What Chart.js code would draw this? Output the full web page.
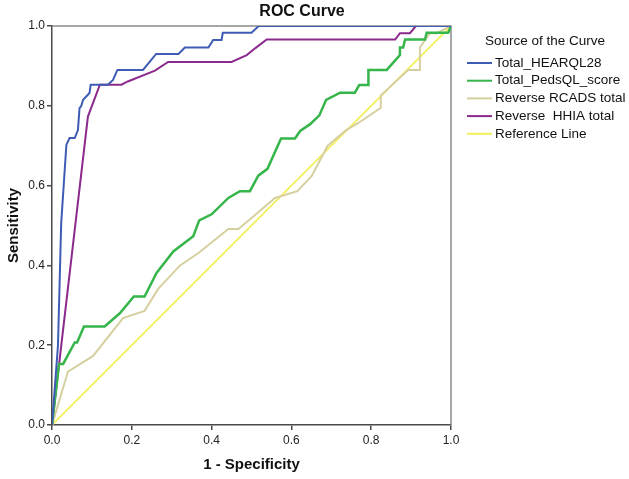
<!DOCTYPE html>
<html>
<head>
<meta charset="utf-8">
<title>ROC Curve</title>
<script src="https://cdn.jsdelivr.net/npm/chart.js@4/dist/chart.umd.min.js"></script>
<style>
  html, body { margin: 0; padding: 0; background: #fff; }
  #wrap { width: 629px; height: 479px; }
</style>
</head>
<body>
<div id="wrap"><canvas id="rocChart" width="629" height="479"></canvas></div>
<script>
// ROC curve points (1 - specificity, sensitivity)
const hearFpr = [0, 0.015, 0.023, 0.036, 0.044, 0.057, 0.065, 0.069, 0.073, 0.078, 0.094, 0.097, 0.14, 0.153, 0.164, 0.196, 0.228, 0.261, 0.317, 0.333, 0.392, 0.404, 0.425, 0.428, 0.5, 0.518, 1.0];
const hearTpr = [0, 0.2, 0.505, 0.702, 0.719, 0.719, 0.739, 0.794, 0.799, 0.815, 0.832, 0.853, 0.853, 0.865, 0.89, 0.89, 0.89, 0.93, 0.93, 0.946, 0.946, 0.965, 0.965, 0.983, 0.983, 1.0, 1.0];

const pedsFpr = [0, 0.0175, 0.028, 0.057, 0.063, 0.08, 0.132, 0.17, 0.205, 0.232, 0.262, 0.304, 0.354, 0.369, 0.4, 0.442, 0.471, 0.496, 0.517, 0.54, 0.574, 0.609, 0.622, 0.647, 0.67, 0.687, 0.722, 0.759, 0.77, 0.793, 0.793, 0.839, 0.872, 0.872, 0.88, 0.885, 0.935, 0.939, 0.993, 1.0];
const pedsTpr = [0, 0.153, 0.153, 0.207, 0.207, 0.247, 0.247, 0.28, 0.322, 0.322, 0.381, 0.435, 0.473, 0.513, 0.528, 0.569, 0.586, 0.586, 0.625, 0.642, 0.718, 0.718, 0.737, 0.754, 0.776, 0.815, 0.833, 0.833, 0.852, 0.852, 0.89, 0.89, 0.927, 0.946, 0.946, 0.966, 0.966, 0.983, 0.983, 1.0];

const rcadsFpr = [0, 0.04, 0.103, 0.178, 0.232, 0.266, 0.321, 0.367, 0.442, 0.467, 0.5, 0.559, 0.615, 0.651, 0.691, 0.737, 0.768, 0.824, 0.824, 0.893, 0.922, 0.922, 0.947, 0.964, 1.0];
const rcadsTpr = [0, 0.134, 0.173, 0.268, 0.286, 0.341, 0.4, 0.431, 0.491, 0.491, 0.519, 0.569, 0.586, 0.624, 0.7, 0.739, 0.757, 0.795, 0.826, 0.89, 0.89, 0.946, 0.982, 0.982, 1.0];

const hhiaFpr = [0, 0.09, 0.12, 0.174, 0.19, 0.258, 0.291, 0.45, 0.488, 0.509, 0.538, 0.86, 0.872, 0.897, 0.912, 1.0];
const hhiaTpr = [0, 0.773, 0.853, 0.853, 0.861, 0.888, 0.91, 0.91, 0.927, 0.944, 0.966, 0.966, 0.982, 0.982, 1.0, 1.0];

const refFpr = [0, 1];
const refTpr = [0, 1];

const curveNames = ["Total_HEARQL28", "Total_PedsQL_score", "Reverse RCADS total", "Reverse  HHIA total", "Reference Line"];
const curveColors = ["#3f5cb5", "#35b54a", "#d6cf9f", "#8b2a8c", "#f3ef5c"];
const axisTicks = [0, 0.2, 0.4, 0.6, 0.8, 1.0];

const fontFamily = '"Liberation Sans", Arial, sans-serif';

function toPoints(xs, ys) {
  return xs.map((x, i) => ({ x: x, y: ys[i] }));
}

// Title, plot frame and legend drawn on top of the chart
const rocDecor = {
  id: "rocDecor",
  beforeDatasetsDraw(chart) {
    const ctx = chart.ctx;
    const a = chart.chartArea;
    ctx.save();
    ctx.strokeStyle = "#8a8a8a";
    ctx.lineWidth = 1.5;
    ctx.beginPath();
    ctx.moveTo(a.left, a.top);
    ctx.lineTo(a.right, a.top);
    ctx.lineTo(a.right, a.bottom);
    ctx.stroke();
    ctx.restore();
  },
  afterDraw(chart) {
    const ctx = chart.ctx;
    ctx.save();
    ctx.fillStyle = "#111";
    ctx.textBaseline = "middle";

    ctx.font = "bold 16px " + fontFamily;
    ctx.textAlign = "center";
    ctx.fillText("ROC Curve", 302, 12);

    ctx.font = "13.5px " + fontFamily;
    ctx.textAlign = "left";
    ctx.fillText("Source of the Curve", 485, 41);

    curveNames.forEach((name, i) => {
      const y = 63 + i * 17.7;
      ctx.strokeStyle = curveColors[i];
      ctx.lineWidth = 2;
      ctx.beginPath();
      ctx.moveTo(467, y);
      ctx.lineTo(492, y);
      ctx.stroke();
      ctx.fillText(name, 495, y);
    });
    ctx.restore();
  }
};

const ctx = document.getElementById("rocChart").getContext("2d");

new Chart(ctx, {
  type: "line",
  data: {
    datasets: [
      { label: curveNames[0], data: toPoints(hearFpr, hearTpr), borderColor: curveColors[0], borderWidth: 2 },
      { label: curveNames[1], data: toPoints(pedsFpr, pedsTpr), borderColor: curveColors[1], borderWidth: 2.5 },
      { label: curveNames[2], data: toPoints(rcadsFpr, rcadsTpr), borderColor: curveColors[2], borderWidth: 2 },
      { label: curveNames[3], data: toPoints(hhiaFpr, hhiaTpr), borderColor: curveColors[3], borderWidth: 2 },
      { label: curveNames[4], data: toPoints(refFpr, refTpr), borderColor: curveColors[4], borderWidth: 1.8 }
    ]
  },
  options: {
    responsive: false,
    animation: false,
    layout: { padding: { top: 26, right: 178, left: 0, bottom: 0 } },
    elements: {
      point: { radius: 0 },
      line: { tension: 0, fill: false }
    },
    plugins: {
      legend: { display: false },
      tooltip: { enabled: false }
    },
    scales: {
      x: {
        type: "linear",
        min: 0,
        max: 1,
        afterBuildTicks: (scale) => { scale.ticks = axisTicks.map((v) => ({ value: v })); },
        afterFit: (scale) => { scale.height = 54; },
        border: { color: "#4a4a4a", width: 1.5 },
        grid: { drawOnChartArea: false, drawTicks: true, tickLength: 5, color: "#4a4a4a", lineWidth: 1.5 },
        ticks: {
          padding: 3,
          color: "#222",
          font: { family: fontFamily, size: 12 },
          callback: (v) => Number(v).toFixed(1)
        },
        title: {
          display: true,
          text: "1 - Specificity",
          color: "#111",
          font: { family: fontFamily, size: 15, weight: "bold" },
          padding: { top: 0, bottom: 5 }
        }
      },
      y: {
        type: "linear",
        min: 0,
        max: 1,
        afterBuildTicks: (scale) => { scale.ticks = axisTicks.map((v) => ({ value: v })); },
        afterFit: (scale) => { scale.width = 52; },
        border: { color: "#4a4a4a", width: 1.5 },
        grid: { drawOnChartArea: false, drawTicks: true, tickLength: 5, color: "#4a4a4a", lineWidth: 1.5 },
        ticks: {
          padding: 2,
          color: "#222",
          font: { family: fontFamily, size: 12 },
          callback: (v) => Number(v).toFixed(1)
        },
        title: {
          display: true,
          text: "Sensitivity",
          color: "#111",
          font: { family: fontFamily, size: 15, weight: "bold" },
          padding: { top: 5, bottom: 0 }
        }
      }
    }
  },
  plugins: [rocDecor]
});
</script>
</body>
</html>
